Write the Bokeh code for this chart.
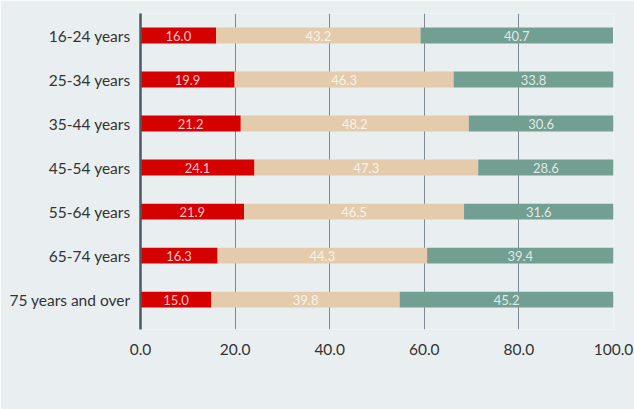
from bokeh.plotting import figure
from bokeh.models import ColumnDataSource, FixedTicker, Range1d, Legend, LegendItem, NumeralTickFormatter
from bokeh.core.properties import value
from bokeh.embed import file_html
from bokeh.resources import INLINE

# Age groups, top to bottom
age_groups = ["16-24 years", "25-34 years", "35-44 years", "45-54 years",
              "55-64 years", "65-74 years", "75 years and over"]
series = ["Rarely or never", "Sometimes", "Mostly or always"]
rarely = [16.0, 19.9, 21.2, 24.1, 21.9, 16.3, 15.0]
sometimes = [43.2, 46.3, 48.2, 47.3, 46.5, 44.3, 39.8]
mostly = [40.7, 33.8, 30.6, 28.6, 31.6, 39.4, 45.2]
x_ticks = [0, 20, 40, 60, 80, 100]

colors = ["#d50000", "#e4cbab", "#739f93"]
bg = "#e9eff0"
font = "Lato"

n = len(age_groups)
ypos = [n - 1 - i for i in range(n)]
values = [rarely, sometimes, mostly]
keys = ["rarely", "sometimes", "mostly"]

source = ColumnDataSource(dict(y=ypos, rarely=rarely, sometimes=sometimes, mostly=mostly))

p = figure(width=634, height=409, frame_width=473, frame_height=316,
           output_backend="svg", toolbar_location=None,
           x_range=Range1d(0, 100), y_range=Range1d(-0.68, n - 0.5))
p.background_fill_color = bg
p.border_fill_color = bg
p.outline_line_color = None
p.min_border_left = 140
p.min_border_right = 21
p.min_border_top = 13
p.min_border_bottom = 0

renderers = p.hbar_stack(keys, y="y", height=0.36, color=colors, line_color=None, source=source)

# Segment value labels, centred in each segment
for i, vals in enumerate(values):
    starts = [sum(v[j] for v in values[:i]) for j in range(n)]
    mids = [s + v / 2 for s, v in zip(starts, vals)]
    lsrc = ColumnDataSource(dict(x=mids, y=ypos, t=[f"{v:.1f}" for v in vals]))
    p.text(x="x", y="y", text="t", source=lsrc, text_align="center",
           text_baseline="middle", text_font=value(font), text_font_size="13px",
           text_color="white", text_alpha=0.78)

# Axes
p.xaxis.ticker = FixedTicker(ticks=x_ticks)
p.xaxis.formatter = NumeralTickFormatter(format="0.0")
p.xaxis.axis_line_color = None
p.xaxis.major_tick_line_color = None
p.xaxis.minor_tick_line_color = None
p.xaxis.major_tick_out = 0
p.xaxis.major_label_standoff = 14
p.xaxis.major_label_text_font = font
p.xaxis.major_label_text_font_size = "15.5px"
p.xaxis.major_label_text_color = "#333333"

p.yaxis.ticker = FixedTicker(ticks=ypos)
p.yaxis.major_label_overrides = {y: g for y, g in zip(ypos, age_groups)}
p.yaxis.axis_line_color = "#4b5966"
p.yaxis.axis_line_width = 2.5
p.yaxis.major_tick_line_color = None
p.yaxis.minor_tick_line_color = None
p.yaxis.major_tick_out = 0
p.yaxis.major_label_standoff = 10
p.yaxis.major_label_text_font = font
p.yaxis.major_label_text_font_size = "15.5px"
p.yaxis.major_label_text_color = "#333333"

p.xgrid.grid_line_color = "#7d8a96"
p.xgrid.grid_line_width = 1
p.ygrid.grid_line_color = None

legend = Legend(items=[LegendItem(label=s, renderers=[r]) for s, r in zip(series, renderers)],
                orientation="horizontal", location=(-107, 0))
legend.glyph_width = 16
legend.glyph_height = 16
legend.label_standoff = 8
legend.spacing = 16
legend.padding = 0
legend.margin = 0
legend.background_fill_alpha = 0
legend.border_line_color = None
legend.label_text_font = font
legend.label_text_font_style = "bold"
legend.label_text_font_size = "16px"
legend.label_text_color = "#111111"
p.add_layout(legend, "below")

open("out.html", "w").write(file_html(p, INLINE))
